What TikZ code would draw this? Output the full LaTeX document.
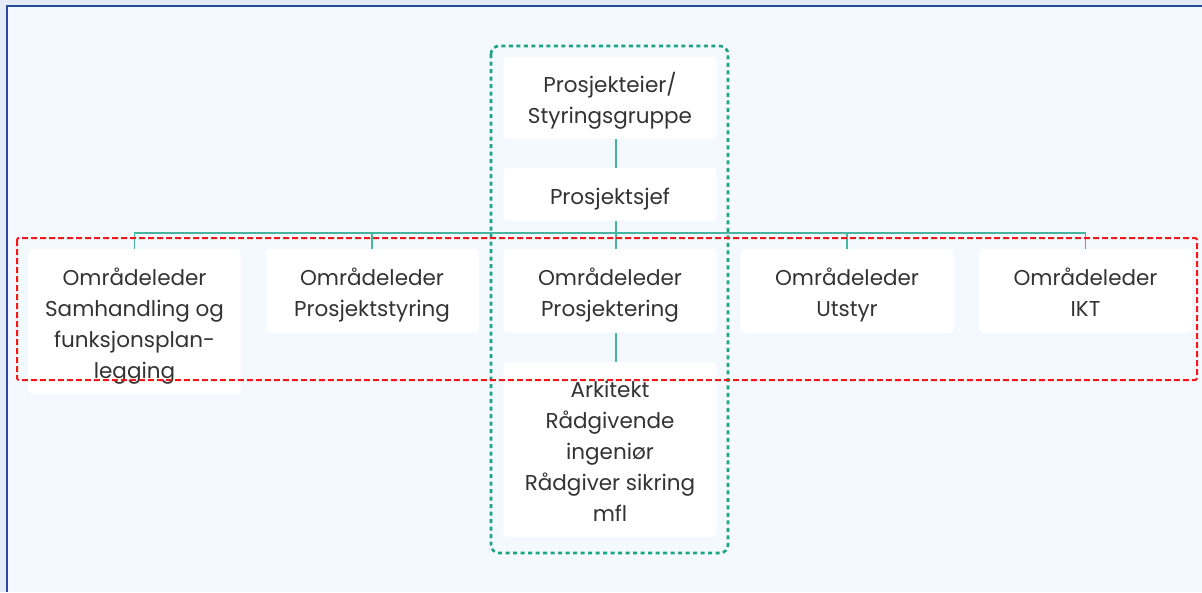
\documentclass[tikz,border=0pt]{standalone}
\usepackage{fontspec}
\setmainfont{Poppins}
\newcommand{\padtop}{\rule{0pt}{30pt}}
\definecolor{pagecol}{HTML}{E6ECF7}
\definecolor{bgcol}{HTML}{F4F8FF}
\definecolor{framecol}{HTML}{244C96}
\definecolor{linkcol}{HTML}{45B5A0}
\definecolor{gcol}{HTML}{1AA585}
\definecolor{rcol}{HTML}{F01818}
\definecolor{txtcol}{HTML}{333333}
\tikzset{every picture/.style={x=1pt,y=-1pt}}
\tikzset{unit/.style={rectangle,fill=white,rounded corners=4pt,minimum width=213pt,align=center,text=txtcol,font=\fontsize{21.5}{31}\selectfont,inner sep=0pt}}
\tikzset{link/.style={draw=linkcol,line width=1.4pt}}
\tikzset{gframe/.style={draw=gcol,line width=2.6pt,dash pattern=on 4pt off 3.5pt,rounded corners=8pt}}
\tikzset{rframe/.style={draw=rcol,line width=2pt,dash pattern=on 6pt off 3pt,rounded corners=2pt}}
\begin{document}
\begin{tikzpicture}
\useasboundingbox (0,0) rectangle (1202,592);
\fill [pagecol] (0,0) rectangle (1202,592);
\fill [bgcol] (7,6) rectangle (1202,592);
\draw [framecol,line width=2.4pt] (7,592) -- (7,6) -- (1202,6);

\node [unit,minimum height=82pt] (eier) at (610,98) {\padtop Prosjekteier/\\Styringsgruppe\strut};
\node [unit,minimum height=53pt] (sjef) at (610,194.5) {\padtop Prosjektsjef\strut};
\node [unit,minimum height=145pt] (o1) at (134.5,321.5) {\padtop Områdeleder\\Samhandling og\\funksjonsplan-\\legging\strut};
\node [unit,minimum height=84pt] (o2) at (372,291) {\padtop Områdeleder\\Prosjektstyring\strut};
\node [unit,minimum height=84pt] (o3) at (610,291) {\padtop Områdeleder\\Prosjektering\strut};
\node [unit,minimum height=84pt] (o4) at (847,291) {\padtop Områdeleder\\Utstyr\strut};
\node [unit,minimum height=84pt] (o5) at (1085.5,291) {\padtop Områdeleder\\IKT\strut};
\node [unit,minimum height=175pt] (rad) at (610,449.5) {\padtop Arkitekt\\Rådgivende\\ingeniør\\Rådgiver sikring\\mfl\strut};
\coordinate (bus) at (616,233);

\draw [link] ([xshift=6pt]eier.south) -- ([xshift=6pt]sjef.north);
\draw [link] ([xshift=6pt]sjef.south) -- (bus);
\draw [link] (bus) -| (o1.north);
\draw [link] (bus) -| (o2.north);
\draw [link] (bus) -- ([xshift=6pt]o3.north);
\draw [link] (bus) -| (o4.north);
\draw [link] (bus) -| (o5.north);
\draw [link] ([xshift=6pt]o3.south) -- ([xshift=6pt]rad.north);

\draw [gframe] (491,46) rectangle (728,553);
\draw [rframe] (17,238) rectangle (1197,380);
\end{tikzpicture}
\end{document}
